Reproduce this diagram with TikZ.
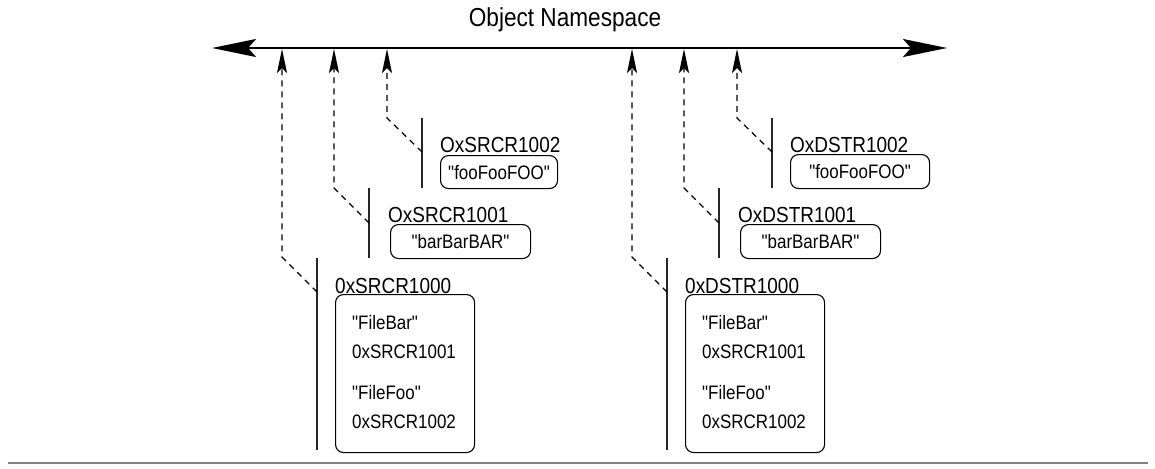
\documentclass[tikz,border=0pt]{standalone}
\usepackage{fontspec}
\newfontfamily\hv[FakeStretch=0.87]{Liberation Sans}
\usetikzlibrary{arrows.meta}
\tikzset{
  axisline/.style={line width=2.2pt, {Stealth[length=44pt,width=18pt,inset=8pt]}-{Stealth[length=44pt,width=18pt,inset=8pt]}},
  link/.style={line width=1.2pt, dash pattern=on 6pt off 5pt, -{Stealth[length=24pt,width=10pt,inset=5pt]}},
  stem/.style={line width=1.3pt, draw=black!85},
  objbox/.style={draw, line width=1.1pt, rounded corners=8pt, inner sep=0pt, anchor=north west},
  lbl/.style={font=\hv\fontsize{21.8}{24}\selectfont, anchor=base west, inner sep=0pt},
  txt/.style={font=\hv\fontsize{19.5}{22}\selectfont, inner sep=0pt},
  ttl/.style={font=\hv\fontsize{26}{30}\selectfont, inner sep=0pt},
}
\begin{document}
\begin{tikzpicture}[x=1pt,y=-1pt]
\useasboundingbox (0,0) rectangle (1155,468);
% title and axis
\node[ttl] (title) at (565,20) {Object Namespace};
\coordinate (axL) at (212,48);
\coordinate (axR) at (947,48);
\draw[axisline] (axL) -- (axR);

% ---------- SRC group ----------
\draw[stem] (317,258) coordinate (sS0t) -- (317,450) coordinate (sS0b);
\draw[stem] (369,188) coordinate (sS1t) -- (369,258) coordinate (sS1b);
\draw[stem] (422,118) coordinate (sS2t) -- (422,188) coordinate (sS2b);
\node[objbox, minimum width=139pt, minimum height=158pt] (bS0) at (335,294) {};
\node[objbox, minimum width=140pt, minimum height=34pt] (bS1) at (390,224) {};
\node[objbox, minimum width=117pt, minimum height=33pt] (bS2) at (440,155) {};
\node[lbl] (lS0) at (335,293) {0xSRCR1000};
\node[lbl] (lS1) at (388,222) {OxSRCR1001};
\node[lbl] (lS2) at (440,152) {OxSRCR1002};
\node[txt] (tS1) at (bS1.center) {"barBarBAR"};
\node[txt] (tS2) at (bS2.center) {"fooFooFOO"};
\node[txt, anchor=west] (tS0a) at (352,323) {"FileBar"};
\node[txt, anchor=west] (tS0b) at (352,352) {0xSRCR1001};
\node[txt, anchor=west] (tS0c) at (352,393) {"FileFoo"};
\node[txt, anchor=west] (tS0d) at (352,422) {0xSRCR1002};
\coordinate (jS0) at (317,292); \coordinate (kS0) at (282,257); \coordinate (uS0) at (282,49);
\coordinate (jS1) at (369,223); \coordinate (kS1) at (334,188); \coordinate (uS1) at (334,49);
\coordinate (jS2) at (422,152); \coordinate (kS2) at (387,118); \coordinate (uS2) at (387,49);
\draw[link] (jS0) -- (kS0) -- (uS0);
\draw[link] (jS1) -- (kS1) -- (uS1);
\draw[link] (jS2) -- (kS2) -- (uS2);

% ---------- DST group ----------
\draw[stem] (667,258) coordinate (sD0t) -- (667,450) coordinate (sD0b);
\draw[stem] (719,188) coordinate (sD1t) -- (719,258) coordinate (sD1b);
\draw[stem] (772,118) coordinate (sD2t) -- (772,188) coordinate (sD2b);
\node[objbox, minimum width=139pt, minimum height=158pt] (bD0) at (685,294) {};
\node[objbox, minimum width=140pt, minimum height=34pt] (bD1) at (740,224) {};
\node[objbox, minimum width=139pt, minimum height=34pt] (bD2) at (790,154) {};
\node[lbl] (lD0) at (685,293) {0xDSTR1000};
\node[lbl] (lD1) at (738,222) {OxDSTR1001};
\node[lbl] (lD2) at (790,152) {OxDSTR1002};
\node[txt] (tD1) at (bD1.center) {"barBarBAR"};
\node[txt] (tD2) at (bD2.center) {"fooFooFOO"};
\node[txt, anchor=west] (tD0a) at (702,323) {"FileBar"};
\node[txt, anchor=west] (tD0b) at (702,352) {0xSRCR1001};
\node[txt, anchor=west] (tD0c) at (702,393) {"FileFoo"};
\node[txt, anchor=west] (tD0d) at (702,422) {0xSRCR1002};
\coordinate (jD0) at (667,292); \coordinate (kD0) at (632,257); \coordinate (uD0) at (632,49);
\coordinate (jD1) at (719,223); \coordinate (kD1) at (684,188); \coordinate (uD1) at (684,49);
\coordinate (jD2) at (772,152); \coordinate (kD2) at (737,118); \coordinate (uD2) at (737,49);
\draw[link] (jD0) -- (kD0) -- (uD0);
\draw[link] (jD1) -- (kD1) -- (uD1);
\draw[link] (jD2) -- (kD2) -- (uD2);

% bottom rule
\coordinate (rL) at (8,463);
\coordinate (rR) at (1148,463);
\draw[line width=2pt, draw=black!50] (rL) -- (rR);
\end{tikzpicture}
\end{document}
